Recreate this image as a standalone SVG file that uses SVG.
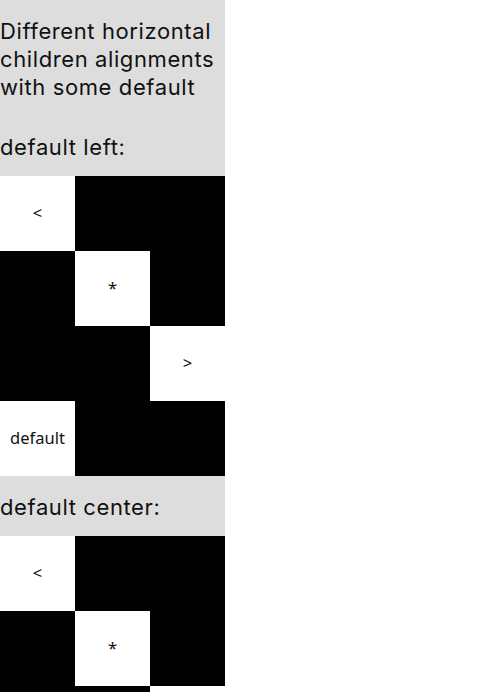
<svg xmlns="http://www.w3.org/2000/svg" width="480" height="692" viewBox="0 0 480 692">
<style>
.bg{fill:#dddddd}
.w{fill:#ffffff}
.b{fill:#000000}
.h{font-family:Inter,"Noto Sans",sans-serif;font-size:22px;letter-spacing:0.6px;fill:#111111}
.s{font-family:"Noto Sans","DejaVu Sans",sans-serif;font-size:16.5px;fill:#111111;text-anchor:middle}
</style>
<rect x="0" y="0" width="480" height="692" fill="#ffffff"/>
<g id="header">
<rect class="bg" x="0" y="0" width="225" height="176"/>
<text class="h" x="0" y="39">Different horizontal</text>
<text class="h" x="0" y="67">children alignments</text>
<text class="h" x="0" y="95">with some default</text>
<text class="h" x="0" y="155">default left:</text>
</g>
<g id="grid-left">
<rect class="w" x="0" y="176" width="75" height="75"/>
<rect class="b" x="75" y="176" width="150" height="75"/>
<text class="s" x="37.5" y="219">&lt;</text>
<rect class="b" x="0" y="251" width="75" height="75"/>
<rect class="w" x="75" y="251" width="75" height="75"/>
<rect class="b" x="150" y="251" width="75" height="75"/>
<text class="s" x="112.5" y="294">*</text>
<rect class="b" x="0" y="326" width="150" height="75"/>
<rect class="w" x="150" y="326" width="75" height="75"/>
<text class="s" x="187.5" y="369">&gt;</text>
<rect class="w" x="0" y="401" width="75" height="75"/>
<rect class="b" x="75" y="401" width="150" height="75"/>
<text class="s" x="37.5" y="444">default</text>
</g>
<g id="header2">
<rect class="bg" x="0" y="476" width="225" height="60"/>
<text class="h" x="0" y="515">default center:</text>
</g>
<g id="grid-center">
<rect class="w" x="0" y="536" width="75" height="75"/>
<rect class="b" x="75" y="536" width="150" height="75"/>
<text class="s" x="37.5" y="579">&lt;</text>
<rect class="b" x="0" y="611" width="75" height="75"/>
<rect class="w" x="75" y="611" width="75" height="75"/>
<rect class="b" x="150" y="611" width="75" height="75"/>
<text class="s" x="112.5" y="654">*</text>
<rect class="b" x="0" y="686" width="150" height="6"/>
<rect class="w" x="150" y="686" width="75" height="6"/>
</g>
</svg>
